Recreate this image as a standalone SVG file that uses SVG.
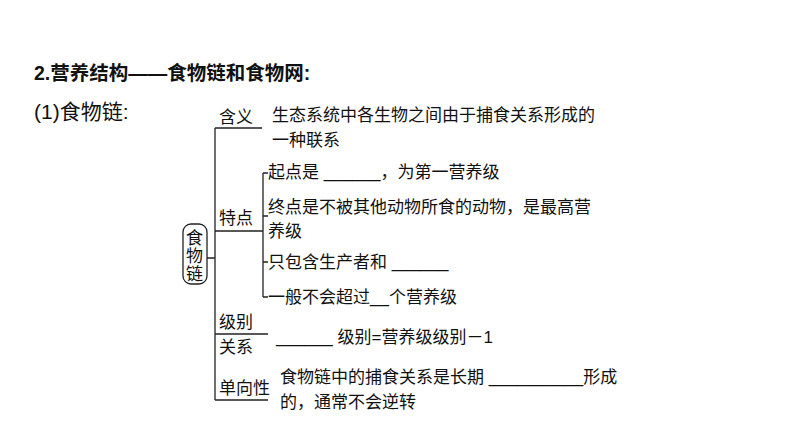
<svg xmlns="http://www.w3.org/2000/svg" width="794" height="446" viewBox="0 0 794 446">
<style>
text{font-family:"Liberation Sans","Noto Sans CJK SC",sans-serif;font-size:17px;fill:#111}
.l{stroke:#222;stroke-width:1.3;fill:none}
.t{font-weight:bold;font-size:19.5px}
</style>
<rect width="794" height="446" fill="#fff"/>
<text class="t" x="34" y="80">2.营养结构——食物链和食物网:</text>
<text x="34" y="119" style="font-size:21px">(1)食物链:</text>
<g id="root"><rect x="183" y="224" width="24" height="60" rx="8" class="l"/>
<text x="186" y="244">食</text><text x="186" y="262">物</text><text x="186" y="280">链</text></g>
<g id="connectors">
<path class="l" d="M207 258H215M215 128V400M215 128H262M215 231H263M263 173V297M263 173H268M263 216H268M263 262H268M263 297H268M215 334H268M215 400H268"/>
</g>
<g id="n1"><text x="219" y="123">含义</text><text x="272" y="121">生态系统中各生物之间由于捕食关系形成的</text><text x="272" y="146">一种联系</text></g>
<g id="n2"><text x="219" y="224">特点</text>
<text x="268" y="178">起点是 ______，为第一营养级</text>
<text x="268" y="213">终点是不被其他动物所食的动物，是最高营</text><text x="268" y="237">养级</text>
<text x="268" y="268">只包含生产者和 ______</text>
<text x="268" y="303">一般不会超过__个营养级</text></g>
<g id="n3"><text x="219" y="328">级别</text><text x="219" y="353">关系</text><text x="276" y="343">______   级别=营养级级别－1</text></g>
<g id="n4"><text x="219" y="394">单向性</text><text x="280" y="383">食物链中的捕食关系是长期 __________形成</text><text x="280" y="408">的，通常不会逆转</text></g>
</svg>
